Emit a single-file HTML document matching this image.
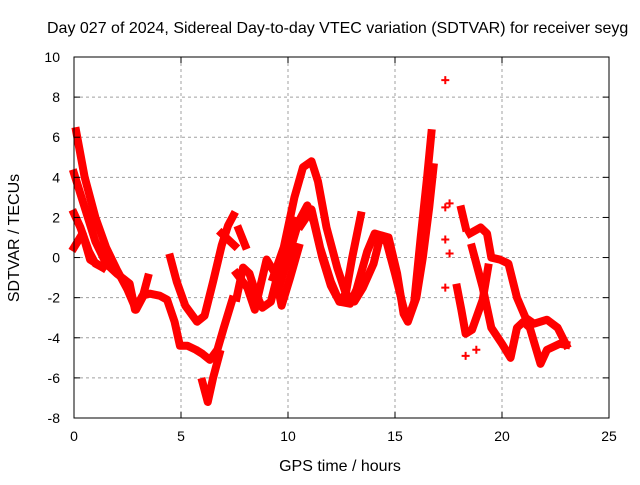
<!DOCTYPE html>
<html><head><meta charset="utf-8"><style>
body{margin:0;background:#fff;width:640px;height:480px;overflow:hidden}
svg text{font-family:"Liberation Sans",sans-serif;font-size:14px;fill:#000}
svg text.big{font-size:16px}
</style></head><body>
<svg id="chart" width="640" height="480" viewBox="0 0 640 480">
<text class="big" x="47" y="33">Day 027 of 2024, Sidereal Day-to-day VTEC variation (SDTVAR) for receiver seyg</text>
<text class="big" x="340" y="471" text-anchor="middle">GPS time / hours</text>
<text class="big" transform="translate(19,238) rotate(-90)" text-anchor="middle">SDTVAR / TECUs</text>
<g id="grid"></g><g id="series"></g><g id="axes"></g>
</svg>
<script>
const xTicks=[0,5,10,15,20,25];
const yTicks=[-8,-6,-4,-2,0,2,4,6,8,10];
const trackA=[[0.1,6.3],[0.5,4],[1,2],[1.5,0.5],[2,-0.6],[2.5,-1.6],[2.9,-2.6],[3.2,-2.0],[3.45,-1.0]];
const trackB=[[0,2.2],[0.3,1.5],[0.7,0.3],[1.0,-0.3],[1.35,-0.5],[1.6,0]];
const trackB2=[[0,0.5],[0.4,1.2],[0.75,-0.1],[1.35,-0.5]];
const trackC=[[0,4.2],[0.5,2.5],[1,0.8],[1.5,-0.3],[2,-0.8],[2.6,-1.3],[2.85,-2.6],[3.2,-1.9],[3.55,-1.8],[4.0,-1.9],[4.35,-2.1],[4.7,-3.2],[4.95,-4.4],[5.3,-4.4],[5.7,-4.6],[6.0,-4.8],[6.35,-5.1],[6.7,-4.6],[7.0,-3.5],[7.4,-2.1]];
const trackD=[[6.0,-6.2],[6.25,-7.2],[6.5,-6],[6.8,-4.8]];
const trackE=[[4.5,0],[4.8,-1.2],[5.2,-2.4],[5.75,-3.2],[6.1,-2.9],[6.5,-1.2],[6.9,0.6],[7.2,1.6],[7.45,2.1]];
const trackE2=[[7.7,1.4],[8.0,0.6]];
const trackE3=[[6.9,1.2],[7.3,0.8],[7.5,0.6]];
const trackN=[[7.6,-2.0],[7.9,-0.5],[8.2,-0.8],[8.5,-1.8],[8.8,-2.5],[9.2,-2.2],[9.6,-0.5],[10,0.5],[10.4,1.8]];
const trackO=[[7.6,-0.8],[8.1,-1.5],[8.45,-2.6],[9.0,-0.1],[9.4,-0.8],[9.7,-2.4],[10.1,-1],[10.5,0.5]];
const trackG=[[9.3,-1],[9.8,0.5],[10.3,3],[10.7,4.5],[11.1,4.8],[11.4,3.8],[11.8,1.5],[12.3,-0.5],[12.7,-1.8],[13.1,-2.2],[13.5,-1.5],[14,-0.3],[14.3,1],[14.6,0.8],[15,-0.8],[15.4,-2.5],[15.6,-3.1],[15.9,-2.2],[16.2,1],[16.5,4],[16.7,6.2]];
const trackH=[[9.5,-1.8],[10,0],[10.5,1.8],[10.9,2.6],[11.2,1.8],[11.6,0],[12,-1.4],[12.4,-2.2],[12.7,-1.8],[13.0,0],[13.4,2.1]];
const trackH2=[[10.6,1.6],[11.1,2.4],[11.5,0.5],[12,-1.2],[12.4,-2.2],[12.9,-2.3],[13.2,-1.6],[13.7,0.3],[14.05,1.2],[14.7,1.0],[15.1,-0.8],[15.4,-2.8],[15.6,-3.2],[16,-2],[16.3,0],[16.6,2.5],[16.8,4.5]];
const trackJ=[[18.1,2.4],[18.3,1.5]];
const trackK=[[17.9,-1.5],[18.1,-2.6],[18.3,-3.8],[18.6,-3.6],[19.1,-2.1],[19.35,-0.5]];
const trackL=[[18.5,1.2],[19.0,1.5],[19.3,1.2],[19.5,0],[19.9,-0.1],[20.3,-0.3],[20.7,-2.0],[21.1,-3.0],[21.5,-3.3],[22.1,-3.1],[22.6,-3.5],[23.0,-4.35]];
const trackM=[[18.6,0.5],[19.1,-1.5],[19.5,-3.5],[20.0,-4.3],[20.4,-5.0],[20.7,-3.5],[21.0,-3.2],[21.3,-3.5],[21.8,-5.3],[22.1,-4.6],[22.7,-4.3],[23.0,-4.35]];
const tracks=[trackA,trackB,trackB2,trackC,trackD,trackE,trackE2,trackE3,trackN,trackO,trackG,trackH,trackH2,trackJ,trackK,trackL,trackM];
const pointsX=[17.35,17.35,17.55,17.35,17.55,17.35,18.3,18.8];
const pointsY=[8.85,2.5,2.7,0.9,0.2,-1.5,-4.9,-4.6];

const L=74,R=609,T=57,B=418;
const sx=v=>L+(v-0)/25*(R-L);
const sy=v=>B-(v+8)/18*(B-T);
const NS='http://www.w3.org/2000/svg';
const mk=(t,a,p)=>{const e=document.createElementNS(NS,t);for(const k in a)e.setAttribute(k,a[k]);p.appendChild(e);return e;};
const grid=document.getElementById('grid'),ser=document.getElementById('series'),ax=document.getElementById('axes');
xTicks.forEach(v=>{
  if(v>0&&v<25){const g=mk('line',{x1:sx(v),x2:sx(v),y1:T,y2:B,stroke:'#a0a0a0','stroke-dasharray':'3,3'},grid);
  
  }
  const t=mk('text',{x:sx(v),y:B+23,'text-anchor':'middle'},ax);t.textContent=v;
  
  
  mk('line',{x1:sx(v),x2:sx(v),y1:B,y2:B-6,stroke:'#000'},ax);
  mk('line',{x1:sx(v),x2:sx(v),y1:T,y2:T+6,stroke:'#000'},ax);
});
yTicks.forEach(v=>{
  if(v>-8&&v<10){const g=mk('line',{x1:L,x2:R,y1:sy(v),y2:sy(v),stroke:'#a0a0a0','stroke-dasharray':'3,3'},grid);
  
  }
  const t=mk('text',{x:L-14,y:sy(v)+5,'text-anchor':'end'},ax);t.textContent=v;
  
  
  mk('line',{x1:L,x2:L+6,y1:sy(v),y2:sy(v),stroke:'#000'},ax);
  mk('line',{x1:R,x2:R-6,y1:sy(v),y2:sy(v),stroke:'#000'},ax);
});
const fr=mk('rect',{x:L,y:T,width:R-L,height:B-T,fill:'none',stroke:'#000'},ax);


tracks.forEach(tr=>{
  const p=mk('polyline',{points:tr.map(d=>sx(d[0])+','+sy(d[1])).join(' '),fill:'none',stroke:'#f00','stroke-width':8,'stroke-linejoin':'round','stroke-linecap':'square'},ser);
  
  
});
pointsX.forEach((x,i)=>{
  const X=sx(x),Y=sy(pointsY[i]);
  const p=mk('path',{d:`M${X-4},${Y}H${X+4}M${X},${Y-4}V${Y+4}`,stroke:'#f00','stroke-width':2},ser);
  
  
});
</script>
</body></html>
